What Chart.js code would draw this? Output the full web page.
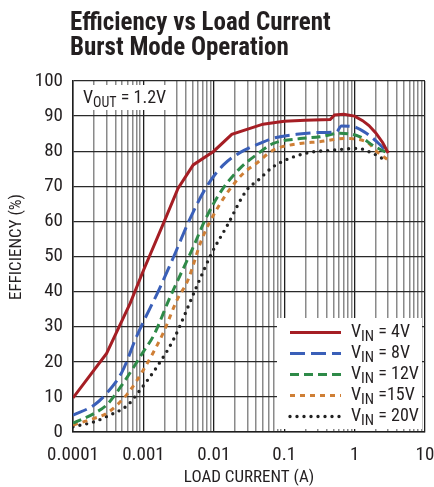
<!DOCTYPE html>
<html><head><meta charset="utf-8">
<script src="https://cdn.jsdelivr.net/npm/chart.js@4.4.1/dist/chart.umd.min.js"></script>
<style>html,body{margin:0;padding:0;background:#fff;}#wrap{width:434px;height:487px;position:relative;}</style>
</head><body><div id="wrap"><canvas id="c" width="434" height="487"></canvas></div>
<script>
// ---- text ----
const titleLines = ["Efficiency vs Load Current", "Burst Mode Operation"];
const xTitle = "LOAD CURRENT (A)";
const yTitle = "EFFICIENCY (%)";
const voutMain = "V", voutSub = "OUT", voutRest = " = 1.2V";
const legendMain = "V", legendSub = "IN";
const legendRest = [" = 4V", " = 8V", " = 12V", " =15V", " = 20V"];

// ---- ticks ----
const xDecades = [0.0001, 0.001, 0.01, 0.1, 1, 10];
const xDecadeLabels = ["0.0001", "0.001", "0.01", "0.1", "1", "10"];
const xMinorMultiples = [2, 3, 4, 5, 6, 7, 8, 9];
const yTickValues = [0, 10, 20, 30, 40, 50, 60, 70, 80, 90, 100];
const yTickLabels = ["0", "10", "20", "30", "40", "50", "60", "70", "80", "90", "100"];

// ---- data (load current A, efficiency %) ----
const vin4X = [0.0001, 0.0003, 0.00065, 0.001, 0.002, 0.0031, 0.0051, 0.01, 0.018, 0.05, 0.1, 0.2, 0.45, 0.52, 0.7, 1, 1.3, 1.6, 2, 2.5, 3];
const vin4Y = [9.7, 22.4, 36.7, 46, 60.2, 69.4, 76.1, 80, 84.8, 87.7, 88.5, 88.8, 89, 90.3, 90.5, 90, 88.7, 87.3, 85.2, 82.5, 79.5];

const vin8X = [0.0001, 0.0002, 0.0003, 0.0005, 0.0008, 0.001, 0.0016, 0.0027, 0.0046, 0.0079, 0.0137, 0.0235, 0.046, 0.07, 0.15, 0.3, 0.55, 0.65, 0.95, 1.47, 2.2, 3];
const vin8Y = [4.8, 7.7, 11, 17.2, 27.2, 31.4, 39.8, 50, 60.8, 69.9, 76.1, 79.6, 82.3, 83.7, 84.8, 85.3, 85.5, 87.2, 87, 85.1, 82.2, 79.4];

const vin12X = [0.0001, 0.0002, 0.0003, 0.0005, 0.001, 0.0014, 0.0024, 0.0049, 0.0079, 0.013, 0.0235, 0.043, 0.07, 0.168, 0.32, 0.62, 1.2, 1.8, 3];
const vin12Y = [2.5, 5.3, 7.7, 13.5, 22.9, 27.5, 38.5, 51.9, 61.3, 68.9, 75.1, 79.4, 82.2, 83.6, 84.1, 85.1, 84.1, 81.7, 79.4];

const vin15X = [0.0001, 0.0002, 0.0003, 0.0006, 0.001, 0.0019, 0.003, 0.0043, 0.0067, 0.0116, 0.0235, 0.043, 0.07, 0.168, 0.32, 0.7, 1.47, 2.06, 2.9];
const vin15Y = [2.0, 3.9, 5.3, 11, 17.7, 28.1, 37.6, 43.3, 54.7, 64.2, 72.7, 77, 80.3, 82.2, 82.7, 83.6, 82.7, 79.9, 77.7];

const vin20X = [0.0001, 0.0002, 0.0003, 0.0006, 0.0009, 0.0015, 0.0027, 0.0057, 0.0093, 0.0152, 0.0293, 0.043, 0.07, 0.2, 0.5, 1.1, 1.8, 2.7];
const vin20Y = [1.5, 2.9, 4.4, 7.7, 12, 18.1, 26.5, 41.4, 50.9, 58.5, 68.9, 71.8, 75.6, 79.4, 80.3, 80.8, 79.4, 77.5];

const pts = (xs, ys) => xs.map((x, i) => ({ x: x, y: ys[i] }));

const FONT = '"Roboto Condensed", "Liberation Sans Narrow", "DejaVu Sans Condensed", sans-serif';

function isDecade(v) {
  return xDecades.some(d => Math.abs(v - d) / d < 1e-6);
}
function decadeLabel(v) {
  for (let i = 0; i < xDecades.length; i++) if (Math.abs(v - xDecades[i]) / xDecades[i] < 1e-6) return xDecadeLabels[i];
  return '';
}

const datasets = [
  { label: "VIN = 4V", data: pts(vin4X, vin4Y), borderColor: '#a51e24', borderWidth: 3, borderDash: [], tension: 0, borderCapStyle: 'butt' },
  { label: "VIN = 8V", data: pts(vin8X, vin8Y), borderColor: '#3a5fb8', borderWidth: 3, borderDash: [15, 6], cubicInterpolationMode: 'monotone', borderCapStyle: 'butt' },
  { label: "VIN = 12V", data: pts(vin12X, vin12Y), borderColor: '#2e8a48', borderWidth: 3, borderDash: [9, 5], cubicInterpolationMode: 'monotone', borderCapStyle: 'butt' },
  { label: "VIN = 15V", data: pts(vin15X, vin15Y), borderColor: '#cf7f36', borderWidth: 3, borderDash: [5, 5], cubicInterpolationMode: 'monotone', borderCapStyle: 'butt' },
  { label: "VIN = 20V", data: pts(vin20X, vin20Y), borderColor: '#222222', borderWidth: 3.4, borderDash: [0, 7], cubicInterpolationMode: 'monotone', borderCapStyle: 'round' }
];
datasets.forEach(d => { d.pointRadius = 0; d.fill = false; });

function drawSubText(ctx, x, y, main, sub, rest, mainSize, subSize, subDy) {
  ctx.font = mainSize + 'px ' + FONT;
  ctx.fillText(main, x, y);
  x += ctx.measureText(main).width;
  ctx.font = subSize + 'px ' + FONT;
  ctx.fillText(sub, x, y + subDy);
  x += ctx.measureText(sub).width;
  ctx.font = mainSize + 'px ' + FONT;
  ctx.fillText(rest, x, y);
}

const overlay = {
  id: 'overlay',
  beforeDatasetsDraw(chart) {
    const { ctx, chartArea: a } = chart;
    ctx.save();
    ctx.fillStyle = '#fff';
    ctx.fillRect(a.left + 1, a.top + 4, 99, 25);
    ctx.fillRect(a.right - 148, a.bottom - 114, 145, 111);
    ctx.restore();
  },
  afterDraw(chart) {
    const { ctx, chartArea: a } = chart;
    ctx.save();
    ctx.fillStyle = '#231f20';
    ctx.textBaseline = 'alphabetic';
    ctx.textAlign = 'left';
    ctx.font = 'bold 25px ' + FONT;
    ctx.fillText(titleLines[0], 70, 30);
    ctx.fillText(titleLines[1], 70, 55);
    ctx.font = '17px ' + FONT;
    ctx.textAlign = 'center';
    ctx.fillText(xTitle, (a.left + a.right) / 2, 482);
    ctx.save();
    ctx.translate(21, 247);
    ctx.rotate(-Math.PI / 2);
    ctx.fillText(yTitle, 0, 0);
    ctx.restore();
    ctx.textAlign = 'left';
    drawSubText(ctx, a.left + 10, a.top + 22, voutMain, voutSub, voutRest, 18, 14, 3.5);
    const lx0 = a.right - 135, lx1 = a.right - 84, tx = a.right - 74;
    for (let i = 0; i < datasets.length; i++) {
      const d = datasets[i];
      const by = a.bottom - 95 + i * 21;
      ctx.save();
      ctx.strokeStyle = d.borderColor;
      ctx.lineWidth = d.borderWidth;
      ctx.lineCap = d.borderCapStyle;
      ctx.setLineDash(d.borderDash);
      ctx.beginPath();
      ctx.moveTo(lx0, by - 4.5);
      ctx.lineTo(lx1, by - 4.5);
      ctx.stroke();
      ctx.restore();
      ctx.fillStyle = '#231f20';
      drawSubText(ctx, tx, by, legendMain, legendSub, legendRest[i], 18, 15, 3.5);
    }
    ctx.restore();
  }
};

new Chart(document.getElementById('c'), {
  type: 'line',
  data: { datasets: datasets },
  options: {
    responsive: false,
    animation: false,
    devicePixelRatio: 1,
    layout: { padding: { top: 81, right: 9, bottom: 0, left: 0 } },
    plugins: { legend: { display: false }, title: { display: false }, tooltip: { enabled: false } },
    scales: {
      x: {
        type: 'logarithmic',
        min: 0.0001, max: 10,
        afterBuildTicks(scale) {
          const vals = [];
          for (let i = 0; i < xDecades.length - 1; i++) {
            vals.push(xDecades[i]);
            xMinorMultiples.forEach(m => vals.push(xDecades[i] * m));
          }
          vals.push(xDecades[xDecades.length - 1]);
          scale.ticks = vals.map(v => ({ value: v }));
        },
        afterFit(scale) { scale.height = 55; scale.paddingLeft = 0; scale.paddingRight = 0; },
        ticks: {
          autoSkip: false, maxRotation: 0, minRotation: 0, padding: 12,
          color: '#231f20', font: { family: FONT, size: 19 },
          callback: (v) => decadeLabel(v)
        },
        grid: {
          drawTicks: false,
          color: (c) => (c.tick && isDecade(c.tick.value)) ? '#1e1e1e' : '#8a8a8a',
          lineWidth: (c) => (c.tick && isDecade(c.tick.value)) ? 1.3 : 1.5
        },
        border: { display: true, color: '#1e1e1e', width: 1.5 }
      },
      y: {
        type: 'linear', min: 0, max: 100,
        afterBuildTicks(scale) { scale.ticks = yTickValues.map(v => ({ value: v })); },
        afterFit(scale) { scale.width = 73; scale.paddingTop = 0; scale.paddingBottom = 0; },
        ticks: {
          padding: 10, color: '#231f20', font: { family: FONT, size: 19 },
          callback: (v) => yTickLabels[yTickValues.indexOf(v)]
        },
        grid: { drawTicks: false, color: '#2a2a2a', lineWidth: 1.3 },
        border: { display: true, color: '#1e1e1e', width: 1.5 }
      }
    }
  },
  plugins: [overlay]
});
</script></body></html>
